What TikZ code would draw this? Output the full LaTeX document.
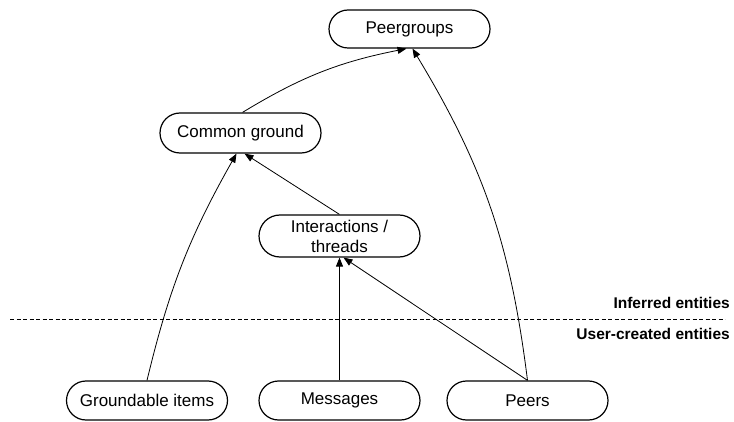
\documentclass[tikz,border=0pt]{standalone}
\usepackage{fontspec}
\setmainfont{Liberation Sans}
\usetikzlibrary{shapes.misc, arrows.meta, positioning}
\tikzset{
  % entity box (pill shape)
  entity/.style={draw=black, rounded rectangle, line width=1.2pt,
    minimum width=165pt, minimum height=39pt, inner sep=2pt, align=center,
    font=\fontsize{17}{20}\selectfont},
  % link between entities
  link/.style={-{Triangle[length=9pt, width=7pt]}, line width=0.8pt},
  % layer boundary and its labels
  divider/.style={dashed, dash pattern=on 4pt off 2.5pt, line width=0.9pt},
  layerlbl/.style={anchor=east, inner sep=0pt, font=\fontsize{15.5}{18}\selectfont\bfseries},
}

\begin{document}
\begin{tikzpicture}[x=1pt, y=1pt]
  \useasboundingbox (0,0) rectangle (734,421);
  \node[entity, minimum height=38pt] (pg) at (409.5,392) {Peergroups};
  \node[entity, minimum height=40pt] (cg) at (240.5,288) {Common ground};
  \node[entity, minimum height=42pt] (it) at (339.5,185) {Interactions /\\threads};
  \node[entity] (gi) at (147,20.5) {Groundable items};
  \node[entity] (msg) at (339.5,20.5) {Messages};
  \node[entity] (pe) at (527.5,20.5) {Peers};
  \coordinate (dl) at (10,102);
  \coordinate (dr) at (725,102);
  \draw[divider] (dl) -- (dr);
  \node[layerlbl] (inf) at (730,118) {Inferred entities};
  \node[layerlbl] (usr) at (730,87) {User-created entities};
  \draw[link] (gi.north) to[bend left=8] ([xshift=-4pt]cg.south);
  \draw[link] (it.north) -- ([xshift=4pt]cg.south);
  \draw[link] (msg.north) -- (it.south);
  \draw[link] (pe.north) -- ([xshift=4pt]it.south);
  \draw[link] (pe.north) to[bend right=12] ([xshift=3pt]pg.south);
  \draw[link] ([xshift=2pt]cg.north) to[bend left=10] ([xshift=-3pt]pg.south);
\end{tikzpicture}
\end{document}
